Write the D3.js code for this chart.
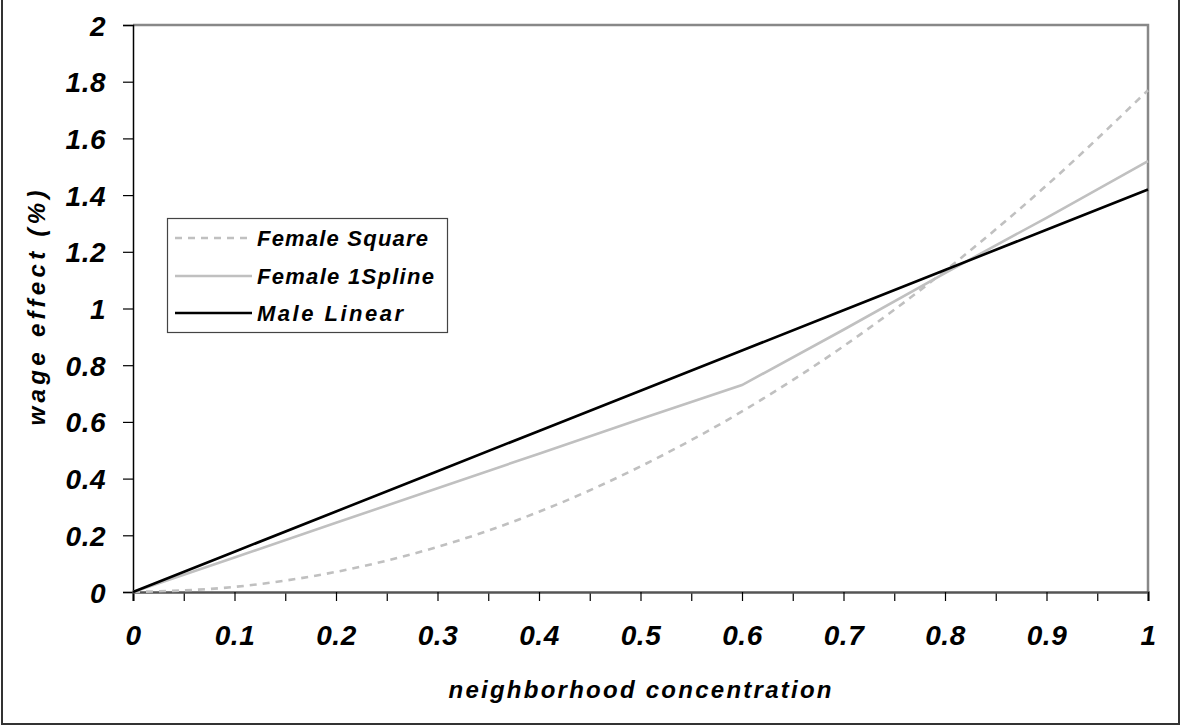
<!DOCTYPE html>
<html>
<head>
<meta charset="utf-8">
<script src="https://cdn.jsdelivr.net/npm/d3@7"></script>
<style>
  body { margin: 0; background: #fff; }
  text { font-family: "Liberation Sans", Arial, sans-serif; font-weight: bold; font-style: italic; fill: #000; }
</style>
</head>
<body>
<div id="chart"></div>
<script>
// ---------------- data ----------------
var xValues = [0, 0.1, 0.2, 0.3, 0.4, 0.5, 0.6, 0.7, 0.8, 0.9, 1];
var femaleSquare = [0, 0.018, 0.071, 0.159, 0.283, 0.443, 0.637, 0.867, 1.133, 1.434, 1.77];
var femaleSpline = [0, 0.122, 0.244, 0.366, 0.488, 0.61, 0.73, 0.925, 1.125, 1.32, 1.52];
var maleLinear = [0, 0.142, 0.284, 0.426, 0.568, 0.71, 0.852, 0.994, 1.136, 1.278, 1.42];
var seriesNames = ["Female Square", "Female 1Spline", "Male Linear"];
var yTicks = [0, 0.2, 0.4, 0.6, 0.8, 1, 1.2, 1.4, 1.6, 1.8, 2];
var xTicks = [0, 0.1, 0.2, 0.3, 0.4, 0.5, 0.6, 0.7, 0.8, 0.9, 1];
var xMinorTicks = [0.05, 0.15, 0.25, 0.35, 0.45, 0.55, 0.65, 0.75, 0.85, 0.95];

var svgWidth = 1181, svgHeight = 726;
var margin = { top: 25, right: 33, bottom: 134, left: 133 };
var width = svgWidth - margin.left - margin.right;
var height = svgHeight - margin.top - margin.bottom;

var svg = d3.select("#chart").append("svg")
  .attr("width", svgWidth).attr("height", svgHeight);

// outer frame
svg.append("rect")
  .attr("x", 2).attr("y", -2).attr("width", 1177).attr("height", 726)
  .attr("fill", "none").attr("stroke", "#333").attr("stroke-width", 2);

var chartGroup = svg.append("g").attr("transform", `translate(${margin.left}, ${margin.top})`);

var x = d3.scaleLinear().domain([0, 1]).range([0, width]);
var y = d3.scaleLinear().domain([0, 2]).range([height, 0]);

// plot frame: top + right in grey
chartGroup.append("path")
  .attr("d", `M0,0H${width}V${height}`)
  .attr("fill", "none").attr("stroke", "#888").attr("stroke-width", 2.5);

// ---------------- axes ----------------
var yAxis = chartGroup.append("g")
  .call(d3.axisLeft(y).tickValues(yTicks).tickSize(10).tickPadding(17)
    .tickFormat(d => d3.format("")(d)));
yAxis.select(".domain").attr("stroke", "#000").attr("stroke-width", 1.5);
yAxis.selectAll(".tick line").attr("stroke", "#000").attr("stroke-width", 1.2);
yAxis.selectAll(".tick text")
  .attr("font-size", 28).attr("letter-spacing", 0.5)
  .attr("font-family", null).attr("fill", "#000").attr("dy", "0.36em");

var xMinor = chartGroup.append("g")
  .attr("transform", `translate(0, ${height})`)
  .call(d3.axisBottom(x).tickValues(xMinorTicks).tickSize(9).tickFormat(""));
xMinor.select(".domain").remove();
xMinor.selectAll(".tick line").attr("stroke", "#000").attr("stroke-width", 1.2);

var xAxis = chartGroup.append("g")
  .attr("transform", `translate(0, ${height})`)
  .call(d3.axisBottom(x).tickValues(xTicks).tickSize(9).tickPadding(24)
    .tickFormat(d => d3.format("")(d)));
xAxis.select(".domain").attr("stroke", "#555").attr("stroke-width", 2.5);
xAxis.selectAll(".tick line").attr("stroke", "#000").attr("stroke-width", 1.2);
xAxis.selectAll(".tick text")
  .attr("font-size", 28).attr("letter-spacing", 0.5)
  .attr("font-family", null).attr("fill", "#000");

// ---------------- axis titles ----------------
svg.append("text")
  .attr("x", 640).attr("y", 698)
  .attr("text-anchor", "middle")
  .attr("font-size", 24)
  .attr("textLength", 383).attr("lengthAdjust", "spacing")
  .text("neighborhood concentration");

svg.append("text")
  .attr("transform", "translate(45, 308) rotate(-90)")
  .attr("text-anchor", "middle")
  .attr("font-size", 24)
  .attr("textLength", 235).attr("lengthAdjust", "spacing")
  .text("wage effect (%)");

// ---------------- lines ----------------
var styles = [
  { color: "#c0c0c0", dash: "7,6", curve: d3.curveMonotoneX },
  { color: "#c0c0c0", dash: null, curve: d3.curveLinear },
  { color: "#000", dash: null, curve: d3.curveLinear }
];
var seriesValues = [femaleSquare, femaleSpline, maleLinear];

seriesValues.forEach((vals, i) => {
  var line = d3.line()
    .x((d, j) => x(xValues[j]))
    .y(d => y(d))
    .curve(styles[i].curve);
  chartGroup.append("path")
    .datum(vals)
    .attr("d", line)
    .attr("fill", "none")
    .attr("stroke", styles[i].color)
    .attr("stroke-width", 2.6)
    .attr("stroke-dasharray", styles[i].dash);
});

// ---------------- legend ----------------
var legend = svg.append("g");
legend.append("rect")
  .attr("x", 167.5).attr("y", 218.5).attr("width", 280).attr("height", 114)
  .attr("fill", "#fff").attr("stroke", "#444").attr("stroke-width", 1.2);

var legendRows = [238, 276, 313];
var legendWidths = [171, 177, 146];
seriesNames.forEach((name, i) => {
  legend.append("line")
    .attr("x1", 175).attr("x2", 252)
    .attr("y1", legendRows[i]).attr("y2", legendRows[i])
    .attr("stroke", styles[i].color)
    .attr("stroke-width", 2.6)
    .attr("stroke-dasharray", styles[i].dash);
  legend.append("text")
    .attr("x", 257).attr("y", legendRows[i] + 8)
    .attr("font-size", 22)
    .attr("textLength", legendWidths[i]).attr("lengthAdjust", "spacing")
    .text(name);
});
</script>
</body>
</html>
